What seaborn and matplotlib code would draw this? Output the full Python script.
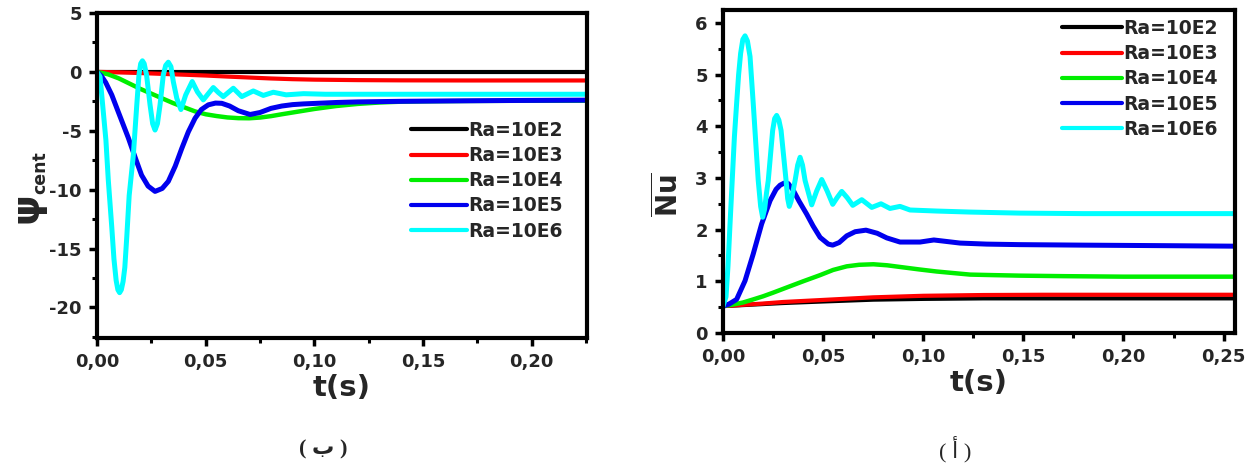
import matplotlib
matplotlib.use("Agg")
import matplotlib.pyplot as plt
from matplotlib.ticker import MultipleLocator, FuncFormatter
import seaborn as sns
import pandas as pd

# ---------------- data: stream function at the cavity centre ----------------
labels = ["Ra=10E2", "Ra=10E3", "Ra=10E4", "Ra=10E5", "Ra=10E6"]
colors = ["#000000", "#ff0000", "#00ee00", "#0000ee", "#00ffff"]

psi_t_ra2 = [0.0, 0.05, 0.10, 0.15, 0.20, 0.2254]
psi_ra2 = [0.0, 0.0, 0.0, 0.0, 0.0, 0.0]

psi_t_ra3 = [0.0, 0.01, 0.02, 0.03, 0.04, 0.05, 0.06, 0.07, 0.08, 0.09, 0.10,
             0.12, 0.14, 0.17, 0.20, 0.2254]
psi_ra3 = [0.0, -0.04, -0.10, -0.17, -0.24, -0.31, -0.40, -0.48, -0.56, -0.62,
           -0.66, -0.70, -0.72, -0.73, -0.73, -0.73]

psi_t_ra4 = [0.0, 0.005, 0.01, 0.015, 0.02, 0.025, 0.03, 0.035, 0.04, 0.045,
             0.05, 0.055, 0.06, 0.065, 0.07, 0.075, 0.08, 0.085, 0.09, 0.095,
             0.10, 0.11, 0.12, 0.13, 0.14, 0.15, 0.17, 0.20, 0.2254]
psi_ra4 = [0.0, -0.20, -0.55, -1.00, -1.45, -1.85, -2.25, -2.65, -3.00, -3.35,
           -3.60, -3.75, -3.87, -3.93, -3.94, -3.88, -3.76, -3.60, -3.45, -3.30,
           -3.15, -2.90, -2.72, -2.60, -2.53, -2.50, -2.47, -2.45, -2.45]

psi_t_ra5 = [0.0, 0.002, 0.004, 0.0068, 0.01, 0.0144, 0.018, 0.0205, 0.0235,
             0.0267, 0.030, 0.0328, 0.036, 0.039, 0.042, 0.0451, 0.048, 0.0512,
             0.0545, 0.0574, 0.061, 0.065, 0.0704, 0.075, 0.080, 0.085, 0.090,
             0.095, 0.10, 0.11, 0.12, 0.14, 0.16, 0.19, 0.2254]
psi_ra5 = [0.0, -0.35, -0.90, -1.96, -3.50, -5.60, -7.50, -8.77, -9.70,
           -10.15, -9.90, -9.30, -8.00, -6.50, -5.10, -3.94, -3.20, -2.80,
           -2.65, -2.67, -2.90, -3.30, -3.62, -3.45, -3.10, -2.90, -2.78,
           -2.72, -2.68, -2.60, -2.55, -2.50, -2.47, -2.43, -2.40]

psi_t_ra6 = [0.0, 0.0014, 0.0041, 0.0052, 0.0068, 0.0078, 0.0088, 0.0096,
             0.0104, 0.0112, 0.012, 0.0128, 0.0137, 0.0148, 0.0167, 0.0183,
             0.0193, 0.0201, 0.0209, 0.0217, 0.0228, 0.0244, 0.0256, 0.0267,
             0.0278, 0.029, 0.0305, 0.0316, 0.0328, 0.034, 0.0351, 0.0367,
             0.0386, 0.0408, 0.0438, 0.0462, 0.0489, 0.0512, 0.0535, 0.0558,
             0.0581, 0.0627, 0.0666, 0.0719, 0.0765, 0.0811, 0.087, 0.095,
             0.105, 0.12, 0.15, 0.19, 0.2254]
psi_ra6 = [0.0, -0.40, -5.80, -9.20, -13.20, -15.90, -17.70, -18.50, -18.75,
           -18.50, -17.80, -16.60, -14.00, -10.50, -7.10, -2.80, -0.26, 0.70,
           0.94, 0.70, -0.26, -2.80, -4.40, -4.94, -4.40, -2.80, -0.26, 0.55,
           0.82, 0.45, -0.83, -2.24, -3.20, -1.96, -0.82, -1.70, -2.38, -1.85,
           -1.33, -1.75, -2.10, -1.39, -2.10, -1.62, -2.00, -1.73, -1.95,
           -1.85, -1.90, -1.90, -1.90, -1.90, -1.90]

# ---------------- data: mean Nusselt number ----------------
nu_t_ra2 = [0.0, 0.01, 0.02, 0.03, 0.05, 0.075, 0.10, 0.13, 0.16, 0.20, 0.2557]
nu_ra2 = [0.52, 0.54, 0.56, 0.58, 0.61, 0.645, 0.66, 0.67, 0.67, 0.67, 0.67]

nu_t_ra3 = [0.0, 0.01, 0.02, 0.03, 0.05, 0.075, 0.10, 0.13, 0.16, 0.20, 0.2557]
nu_ra3 = [0.52, 0.545, 0.57, 0.60, 0.64, 0.69, 0.72, 0.735, 0.74, 0.74, 0.74]

nu_t_ra4 = [0.0, 0.005, 0.01, 0.0151, 0.02, 0.025, 0.0318, 0.04, 0.0485,
            0.055, 0.0618, 0.068, 0.0751, 0.082, 0.09, 0.098, 0.1067, 0.115,
            0.1234, 0.135, 0.148, 0.17, 0.20, 0.23, 0.2557]
nu_ra4 = [0.52, 0.55, 0.59, 0.65, 0.71, 0.78, 0.88, 1.00, 1.12, 1.22, 1.29,
          1.32, 1.33, 1.31, 1.27, 1.23, 1.19, 1.16, 1.13, 1.12, 1.11, 1.10,
          1.09, 1.09, 1.09]

nu_t_ra5 = [0.0, 0.003, 0.0068, 0.011, 0.0151, 0.0193, 0.0235, 0.0265, 0.0285,
            0.0305, 0.0326, 0.0351, 0.038, 0.0418, 0.045, 0.0485, 0.0526,
            0.0548, 0.058, 0.0618, 0.066, 0.0714, 0.077, 0.0818, 0.0884,
            0.0984, 0.1053, 0.1184, 0.1317, 0.148, 0.18, 0.22, 0.2557]
nu_ra5 = [0.52, 0.56, 0.65, 1.01, 1.53, 2.11, 2.56, 2.78, 2.86, 2.90, 2.89,
          2.76, 2.55, 2.30, 2.07, 1.85, 1.72, 1.70, 1.75, 1.88, 1.96, 1.99,
          1.93, 1.84, 1.76, 1.76, 1.80, 1.74, 1.72, 1.71, 1.70, 1.69, 1.68]

nu_t_ra6 = [0.0, 0.0015, 0.0025, 0.0035, 0.0046, 0.0057, 0.0068, 0.0078,
            0.0088, 0.0099, 0.011, 0.0122, 0.0135, 0.0151, 0.0165, 0.0176,
            0.0188, 0.0198, 0.0208, 0.0217, 0.0226, 0.0248, 0.0258, 0.0268,
            0.0279, 0.029, 0.0315, 0.0323, 0.0331, 0.034, 0.036, 0.0373,
            0.0385, 0.0397, 0.041, 0.0443, 0.0468, 0.0493, 0.052, 0.0548,
            0.057, 0.0593, 0.062, 0.0648, 0.0693, 0.0743, 0.0789, 0.0834,
            0.0884, 0.0934, 0.1067, 0.1234, 0.148, 0.18, 0.22, 0.2557]
nu_ra6 = [0.52, 0.70, 1.30, 2.10, 2.95, 3.80, 4.44, 5.00, 5.41, 5.68, 5.75,
          5.65, 5.35, 4.44, 3.60, 2.95, 2.45, 2.24, 2.40, 2.70, 2.95, 3.92,
          4.15, 4.21, 4.12, 3.92, 2.95, 2.60, 2.45, 2.55, 2.95, 3.25, 3.40,
          3.25, 2.95, 2.48, 2.75, 2.97, 2.75, 2.49, 2.62, 2.74, 2.62, 2.47,
          2.58, 2.43, 2.50, 2.41, 2.45, 2.38, 2.36, 2.34, 2.32, 2.31, 2.31,
          2.31]

psi_series = [(psi_t_ra2, psi_ra2), (psi_t_ra3, psi_ra3), (psi_t_ra4, psi_ra4),
              (psi_t_ra5, psi_ra5), (psi_t_ra6, psi_ra6)]
nu_series = [(nu_t_ra2, nu_ra2), (nu_t_ra3, nu_ra3), (nu_t_ra4, nu_ra4),
             (nu_t_ra5, nu_ra5), (nu_t_ra6, nu_ra6)]
line_widths = [3.0, 3.0, 3.2, 3.6, 3.6]

# ---------------- style ----------------
sns.set_theme(style="ticks")
plt.rcParams["font.family"] = ["DejaVu Sans"]
plt.rcParams["font.weight"] = "bold"
plt.rcParams["axes.unicode_minus"] = False
plt.rcParams["mathtext.fontset"] = "dejavusans"

fig = plt.figure(figsize=(12.56, 4.65), dpi=100)
ax_psi = fig.add_axes([97 / 1256, 1 - 338 / 465, 490 / 1256, 325 / 465])
ax_nu = fig.add_axes([723 / 1256, 1 - 333 / 465, 512 / 1256, 323 / 465])

comma_fmt = FuncFormatter(lambda v, p: f"{v:.2f}".replace(".", ","))


def draw_panel(ax, series):
    for (tt, vv), lab, col, lw in zip(series, labels, colors, line_widths):
        frame = pd.DataFrame({"t": tt, "v": vv})
        sns.lineplot(data=frame, x="t", y="v", ax=ax, color=col, lw=lw,
                     label=lab, estimator=None, sort=False)
    for side in ["left", "right", "top", "bottom"]:
        ax.spines[side].set_visible(True)
        ax.spines[side].set_color("black")
        ax.spines[side].set_linewidth(3)
    ax.tick_params(axis="both", which="major", direction="out", length=6,
                   width=2.5, color="black", labelsize=13, pad=5)
    ax.tick_params(axis="both", which="minor", direction="out", length=3.5,
                   width=2.2, color="black")
    ax.tick_params(top=False, right=False, which="both")
    for lbl in ax.get_xticklabels() + ax.get_yticklabels():
        lbl.set_fontweight("bold")
    ax.xaxis.set_major_locator(MultipleLocator(0.05))
    ax.xaxis.set_minor_locator(MultipleLocator(0.025))
    ax.xaxis.set_major_formatter(comma_fmt)
    ax.set_xlabel("t(s)", fontsize=21, fontweight="bold", labelpad=2)
    ax.set_facecolor("white")


def style_legend(leg):
    for txt in leg.get_texts():
        txt.set_fontweight("bold")
    for ln in leg.get_lines():
        ln.set_linewidth(3.0)


# ---------------- left panel: psi_cent ----------------
draw_panel(ax_psi, psi_series)
ax_psi.set_xlim(0, 0.2254)
ax_psi.set_ylim(-22.6, 5)
ax_psi.yaxis.set_major_locator(MultipleLocator(5))
ax_psi.yaxis.set_minor_locator(MultipleLocator(2.5))
ax_psi.set_ylabel("")
style_legend(ax_psi.legend(loc="upper left", bbox_to_anchor=(0.64, 0.668),
                           frameon=False, fontsize=13.5, handlelength=3.0,
                           handletextpad=0.05, labelspacing=0.33,
                           borderpad=0, borderaxespad=0))

fig.text(27 / 1256, 1 - 208 / 465, "ψ", rotation=90, ha="center",
         va="center", fontsize=28, fontweight="bold")
fig.text(40 / 1256, 1 - 173 / 465, "cent", rotation=90, ha="center",
         va="center", fontsize=12.5, fontweight="bold")

# ---------------- right panel: mean Nusselt number ----------------
draw_panel(ax_nu, nu_series)
ax_nu.set_xlim(0, 0.2557)
ax_nu.set_ylim(0, 6.25)
ax_nu.yaxis.set_major_locator(MultipleLocator(1))
ax_nu.yaxis.set_minor_locator(MultipleLocator(0.5))
ax_nu.set_ylabel(r"$\overline{\mathbf{Nu}}$", fontsize=20)
ax_nu.yaxis.set_label_coords(-0.075, 0.43)
style_legend(ax_nu.legend(loc="upper left", bbox_to_anchor=(0.662, 0.972),
                          frameon=False, fontsize=13.5, handlelength=3.2,
                          handletextpad=0.05, labelspacing=0.33,
                          borderpad=0, borderaxespad=0))

# ---------------- panel captions ----------------
fig.text(323 / 1256, 1 - 449 / 465, "( ب )", ha="center", va="center",
         fontsize=16, fontweight="bold",
         family=["Liberation Serif", "DejaVu Sans"])
fig.text(955 / 1256, 1 - 449 / 465, "( أ )", ha="center", va="center",
         fontsize=16, fontweight="normal",
         family=["Liberation Serif", "DejaVu Sans"])

fig.savefig("out.png", dpi=100, facecolor="white")
